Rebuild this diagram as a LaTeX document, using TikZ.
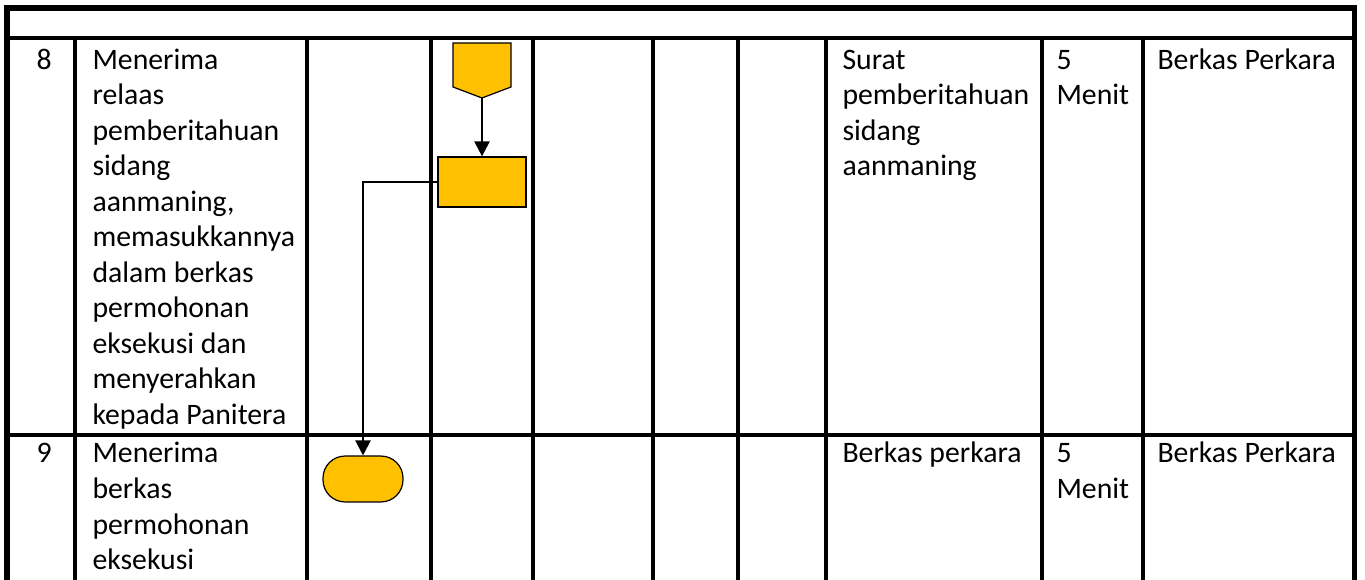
\documentclass[tikz,border=0pt]{standalone}
\usepackage{fontspec}
\setmainfont{Carlito}
\usetikzlibrary{arrows.meta}
\definecolor{gold}{HTML}{FFC000}
\def\px{0.39pt}
% stacked cell lines, baseline on the first line
\newcommand\celltext[1]{\begin{tabular}[t]{@{}l@{}}#1\end{tabular}}
\begin{document}
\begin{tikzpicture}[x=\px,y=-\px,
  frame/.style={line width=2.2pt},
  rule/.style={line width=1.56pt},
  cell/.style={anchor=base west,inner sep=0pt,font=\fontsize{11.6}{13.85}\selectfont},
  shapeline/.style={draw=black,line width=0.47pt,fill=gold},
  procbox/.style={shapeline,rectangle,minimum width=34.3pt,minimum height=19.5pt,inner sep=0pt},
  termbox/.style={shapeline,rectangle,rounded corners=8.6pt,minimum width=31.2pt,minimum height=17.9pt,inner sep=0pt},
  conn/.style={line width=0.86pt,-{Triangle[width=5.85pt,length=5.85pt]}},
]
\useasboundingbox[fill=white] (0,0) rectangle (1365,580);

% table frame and rules
\draw[frame] (6.7,580) -- (6.7,8) -- (1354.5,8) -- (1354.5,580);
\draw[rule] (6.7,38) -- (1354.5,38);
\draw[rule] (6.7,435) -- (1354.5,435);
\foreach \x in {75,307,431,533,653,738,826,1042,1143}
  \draw[rule] (\x,38) -- (\x,580);

% row 8
\node[cell] (n8) at (36,69.3) {8};
\node[cell] (d8) at (92,69.3) {\celltext{Menerima\\relaas\\pemberitahuan\\sidang\\aanmaning,\\memasukkannya\\dalam berkas\\permohonan\\eksekusi dan\\menyerahkan\\kepada Panitera}};
\node[cell] (o8) at (842,69.3) {\celltext{Surat\\pemberitahuan\\sidang\\aanmaning}};
\node[cell] (t8) at (1056,69.3) {\celltext{5\\Menit}};
\node[cell] (r8) at (1157,69.3) {Berkas Perkara};

% row 9
\node[cell] (n9) at (36,463) {9};
\node[cell] (d9) at (92,463) {\celltext{Menerima\\berkas\\permohonan\\eksekusi}};
\node[cell] (o9) at (842,463) {Berkas perkara};
\node[cell] (t9) at (1056,463) {\celltext{5\\Menit}};
\node[cell] (r9) at (1157,463) {Berkas Perkara};

% flow symbols
\filldraw[shapeline] (453,43) -- (511,43) -- (511,87) -- (482,98) -- (453,87) -- cycle;
\coordinate (offtip) at (482,98);
\node[procbox] (proc) at (482,182) {};
\node[termbox] (term) at (363,479) {};

\draw[conn] (offtip) -- (proc.north);
\draw[conn] (proc.west) -| (term.north);
\end{tikzpicture}
\end{document}
